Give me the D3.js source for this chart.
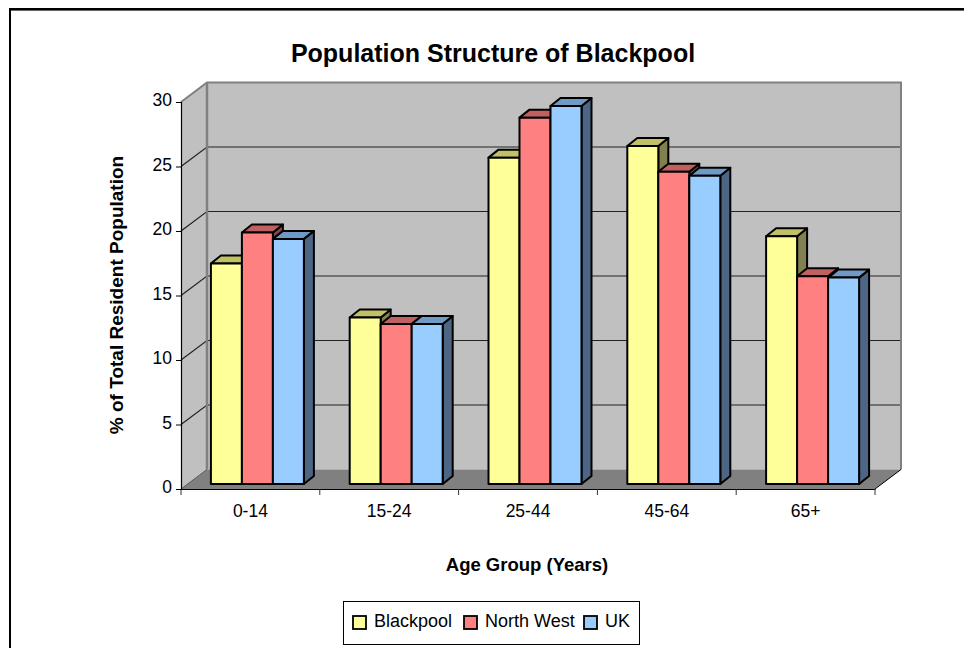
<!DOCTYPE html>
<html>
<head>
<meta charset="utf-8">
<script src="https://cdn.jsdelivr.net/npm/d3@7"></script>
<style>
  html, body { margin: 0; padding: 0; background: #fff; }
  svg { display: block; }
  text { font-family: "Liberation Sans", Arial, sans-serif; fill: #000; }
</style>
</head>
<body>
<div id="chart-container"></div>
<script>
const categories = ["0-14", "15-24", "25-44", "45-64", "65+"];
const seriesNames = ["Blackpool", "North West", "UK"];
const blackpool = [17.1, 12.9, 25.3, 26.2, 19.2];
const northWest = [19.5, 12.4, 28.4, 24.2, 16.1];
const uk = [19.0, 12.4, 29.3, 23.9, 16.0];
const yTicks = [0, 5, 10, 15, 20, 25, 30];

const seriesValues = [blackpool, northWest, uk];
const front = ["#ffff99", "#ff8080", "#99ccff"];
const topFace = ["#c0c066", "#c06060", "#6f9ac6"];
const sideFace = ["#808050", "#804848", "#4d6685"];

const width = 964, height = 648;
// front plane of the box, the back wall is shifted by depth
const plot = {left: 181, right: 875, top: 102, bottom: 489};
const depth = {x: 26, y: -19.5};
const barInset = {x: 7, y: -5};
const barDepth = {x: 10, y: -8};

const svg = d3.select("#chart-container")
    .append("svg")
    .attr("width", width)
    .attr("height", height);

const x = d3.scaleBand()
    .domain(categories)
    .range([plot.left, plot.right]);

const y = d3.scaleLinear()
    .domain([0, 30])
    .range([plot.bottom, plot.top]);

const poly = pts => pts.map(p => p.join(",")).join(" ");

// outer frame
svg.append("path")
    .attr("d", `M${width},10.5H10`)
    .attr("fill", "none")
    .attr("stroke", "#666")
    .attr("stroke-width", 1);
svg.append("path")
    .attr("d", `M10,${height}V9H${width}`)
    .attr("fill", "none")
    .attr("stroke", "#000")
    .attr("stroke-width", 2);

// walls and floor
const wall = svg.append("g");
wall.append("rect")
    .attr("x", plot.left + depth.x)
    .attr("y", plot.top + depth.y)
    .attr("width", plot.right - plot.left)
    .attr("height", plot.bottom - plot.top)
    .attr("fill", "#c0c0c0");
wall.append("polygon")
    .attr("points", poly([
      [plot.left, plot.top],
      [plot.left + depth.x, plot.top + depth.y],
      [plot.left + depth.x, plot.bottom + depth.y],
      [plot.left, plot.bottom]]))
    .attr("fill", "#c0c0c0");
wall.append("polygon")
    .attr("points", poly([
      [plot.left, plot.bottom],
      [plot.left + depth.x, plot.bottom + depth.y],
      [plot.right + depth.x, plot.bottom + depth.y],
      [plot.right, plot.bottom]]))
    .attr("fill", "#808080");

// gridlines run along the left wall then across the back
yTicks.filter(d => d > 0 && d < 30).forEach(d => {
  wall.append("path")
      .attr("d", `M${plot.left},${y(d)}L${plot.left + depth.x},${y(d) + depth.y}H${plot.right + depth.x}`)
      .attr("fill", "none")
      .attr("stroke", "#222")
      .attr("stroke-width", 1.2);
});

// grey wall edges
wall.append("path")
    .attr("d", `M${plot.left},${plot.top}L${plot.left + depth.x},${plot.top + depth.y}H${plot.right + depth.x}V${plot.bottom + depth.y}`)
    .attr("fill", "none")
    .attr("stroke", "#808080")
    .attr("stroke-width", 2);
wall.append("path")
    .attr("d", `M${plot.left + depth.x},${plot.top + depth.y}V${plot.bottom + depth.y}`)
    .attr("fill", "none")
    .attr("stroke", "#808080")
    .attr("stroke-width", 2.5);
wall.append("path")
    .attr("d", `M${plot.right},${plot.bottom}L${plot.right + depth.x},${plot.bottom + depth.y}`)
    .attr("fill", "none")
    .attr("stroke", "#000");
wall.append("path")
    .attr("d", `M${plot.left},${plot.bottom}L${plot.left + depth.x},${plot.bottom + depth.y}`)
    .attr("fill", "none")
    .attr("stroke", "#555");

// bars
const inner = d3.scaleBand()
    .domain(seriesNames)
    .range([0, x.bandwidth()])
    .paddingInner(0)
    .paddingOuter(0.739);

categories.forEach((cat, c) => {
  const g = svg.append("g");
  seriesNames.forEach((name, s) => {
    const v = seriesValues[s][c];
    const x0 = x(cat) + inner(name) + barInset.x;
    const x1 = x0 + inner.bandwidth();
    const y0 = y(0) + barInset.y;
    const y1 = y(v) + barInset.y;
    const dx = barDepth.x, dy = barDepth.y;
    const bar = g.append("g")
        .attr("stroke", "#000")
        .attr("stroke-width", 2)
        .attr("stroke-linejoin", "round");
    bar.append("polygon")
        .attr("points", poly([[x1, y1], [x1 + dx, y1 + dy], [x1 + dx, y0 + dy], [x1, y0]]))
        .attr("fill", sideFace[s]);
    bar.append("polygon")
        .attr("points", poly([[x0, y1], [x0 + dx, y1 + dy], [x1 + dx, y1 + dy], [x1, y1]]))
        .attr("fill", topFace[s]);
    bar.append("rect")
        .attr("x", x0)
        .attr("y", y1)
        .attr("width", x1 - x0)
        .attr("height", y0 - y1)
        .attr("fill", front[s]);
  });
});

// axes
const xAxis = svg.append("g")
    .attr("transform", `translate(0,${plot.bottom})`)
    .call(d3.axisBottom(x).tickSize(0).tickPadding(16));
xAxis.select(".domain").attr("stroke", "#000").attr("stroke-width", 1.2);
xAxis.selectAll("text").attr("font-size", 17.5).attr("font-family", "Liberation Sans");

// ticks sit between the categories
svg.append("g")
    .selectAll("line")
    .data(categories.concat(["end"]))
    .join("line")
    .attr("x1", (d, i) => plot.left + i * x.step())
    .attr("x2", (d, i) => plot.left + i * x.step())
    .attr("y1", plot.bottom)
    .attr("y2", plot.bottom + 6)
    .attr("stroke", "#333");

const yAxis = svg.append("g")
    .attr("transform", `translate(${plot.left},0)`)
    .call(d3.axisLeft(y).tickValues(yTicks).tickSize(5).tickPadding(4).tickFormat(d3.format("d")));
yAxis.select(".domain").attr("stroke", "#000").attr("stroke-width", 1.2);
yAxis.selectAll("text").attr("font-size", 17.5).attr("font-family", "Liberation Sans").attr("dy", "0.2em");
yAxis.selectAll("line").attr("stroke", "#000");

// titles
svg.append("text")
    .attr("x", 493)
    .attr("y", 62)
    .attr("text-anchor", "middle")
    .attr("font-size", 25)
    .attr("font-weight", "bold")
    .text("Population Structure of Blackpool");

svg.append("text")
    .attr("transform", "translate(123,295) rotate(-90)")
    .attr("text-anchor", "middle")
    .attr("font-size", 19)
    .attr("font-weight", "bold")
    .text("% of Total Resident Population");

svg.append("text")
    .attr("x", 527)
    .attr("y", 571)
    .attr("text-anchor", "middle")
    .attr("font-size", 18.5)
    .attr("font-weight", "bold")
    .text("Age Group (Years)");

// legend
const legend = svg.append("g");
legend.append("rect")
    .attr("x", 343.5)
    .attr("y", 601.5)
    .attr("width", 296)
    .attr("height", 43)
    .attr("fill", "#fff")
    .attr("stroke", "#000");

const legendX = [353, 464, 584];
seriesNames.forEach((name, s) => {
  legend.append("rect")
      .attr("x", legendX[s])
      .attr("y", 616)
      .attr("width", 13)
      .attr("height", 13)
      .attr("fill", front[s])
      .attr("stroke", "#000")
      .attr("stroke-width", 1.8);
  legend.append("text")
      .attr("x", legendX[s] + 21)
      .attr("y", 627)
      .attr("font-size", 18)
      .text(name);
});
</script>
</body>
</html>
